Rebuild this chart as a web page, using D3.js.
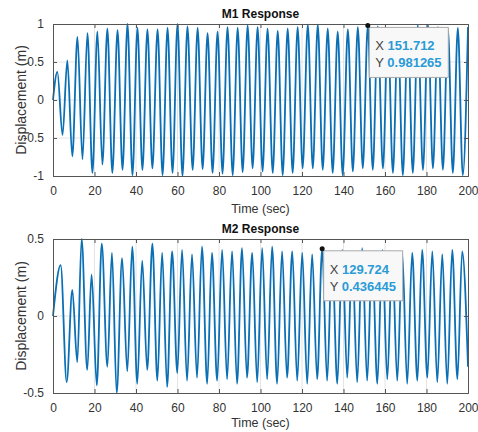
<!DOCTYPE html>
<html>
<head>
<meta charset="utf-8">
<script src="https://cdn.jsdelivr.net/npm/d3@7"></script>
<style>
  html, body { margin: 0; padding: 0; background: #fff; }
  svg { display: block; }
  text { font-family: "Liberation Sans", Arial, Helvetica, sans-serif; }
</style>
</head>
<body>
<svg id="chart" width="478" height="432"></svg>
<script>
// ---------------- data ----------------
const timeTicks = [0, 20, 40, 60, 80, 100, 120, 140, 160, 180, 200];
const m1Ticks = [-1, -0.5, 0, 0.5, 1];
const m2Ticks = [-0.5, 0, 0.5];

const m1Time = [0, 2.1, 4.6, 6.9, 9.3, 11.8, 14.2, 16.6, 19.0, 21.4, 23.8, 26.2, 28.6, 31.1, 33.5,
  35.9, 38.3, 40.7, 43.1, 45.5, 47.9, 50.4, 52.8, 55.2, 57.6, 60.0, 62.4, 64.8, 67.3, 69.7, 72.1,
  74.5, 76.9, 79.3, 81.7, 84.1, 86.6, 89.0, 91.4, 93.8, 96.2, 98.6, 101.0, 103.4, 105.9, 108.3,
  110.7, 113.1, 115.5, 117.9, 120.3, 122.8, 125.2, 127.6, 130.0, 132.4, 134.8, 137.2, 139.6, 142.1,
  144.5, 146.9, 149.3, 151.712, 154.1, 156.5, 159.0, 161.4, 163.8, 166.2, 168.6, 171.0, 173.4, 175.8,
  178.3, 180.7, 183.1, 185.5, 187.9, 190.3, 192.7, 195.1, 197.5, 200.0];
const m1Disp = [0, 0.37, -0.46, 0.52, -0.74, 0.83, -0.78, 0.88, -0.96, 0.90, -0.85, 0.94, -0.96,
  0.92, -0.92, 1.00, -0.99, 0.95, -0.92, 0.93, -0.90, 0.93, -0.99, 0.95, -0.96, 1.00, -1.00,
  0.97, -0.92, 0.95, -0.91, 0.88, -0.96, 0.90, -0.97, 0.96, -0.99, 0.95, -0.95, 0.98, -0.90,
  0.96, -0.94, 0.94, -0.96, 0.91, -0.99, 0.94, -0.96, 0.96, -0.90, 0.99, -0.90, 0.99, -0.92,
  0.94, -0.96, 0.90, -0.99, 0.93, -0.94, 0.96, -0.90, 0.981265, -0.92, 0.97, -0.90, 0.95, -0.96,
  0.93, -0.99, 0.95, -0.96, 0.98, -0.92, 0.99, -0.90, 0.96, -0.92, 0.94, -0.96, 0.95, -0.99, 0.96];

const m2Time = [0, 3.7, 6.6, 9.3, 11.7, 13.8, 16.5, 18.6, 21.1, 23.5, 26.2, 28.4, 30.7, 33.3, 35.8,
  38.2, 40.6, 43.0, 45.4, 47.9, 50.3, 52.6, 55.0, 57.4, 59.9, 62.2, 64.6, 67.0, 69.4, 71.8, 74.3,
  76.6, 79.1, 81.5, 83.9, 86.3, 88.7, 91.1, 93.5, 96.0, 98.4, 100.8, 103.2, 105.6, 108.0, 110.4,
  112.8, 115.3, 117.7, 120.1, 122.5, 124.9, 127.3, 129.724, 132.1, 134.5, 137.0, 139.4, 141.8, 144.2,
  146.6, 149.0, 151.4, 153.8, 156.3, 158.7, 161.1, 163.5, 165.9, 168.3, 170.7, 173.1, 175.6, 177.9,
  180.4, 182.8, 185.2, 187.6, 190.0, 192.4, 194.9, 197.2, 200.0];
const m2Disp = [0, 0.33, -0.43, 0.17, -0.30, 0.50, -0.35, 0.27, -0.45, 0.47, -0.33, 0.41, -0.50,
  0.375, -0.36, 0.45, -0.44, 0.36, -0.35, 0.47, -0.42, 0.41, -0.46, 0.42, -0.37, 0.43, -0.42,
  0.40, -0.40, 0.45, -0.44, 0.41, -0.42, 0.43, -0.41, 0.42, -0.44, 0.44, -0.40, 0.41, -0.43,
  0.44, -0.41, 0.45, -0.44, 0.42, -0.40, 0.42, -0.42, 0.41, -0.44, 0.40, -0.41, 0.436445, -0.42,
  0.42, -0.44, 0.43, -0.40, 0.41, -0.43, 0.44, -0.42, 0.42, -0.44, 0.43, -0.41, 0.41, -0.42,
  0.41, -0.44, 0.41, -0.42, 0.43, -0.40, 0.42, -0.43, 0.40, -0.44, 0.43, -0.41, 0.42, -0.33];

const panels = [
  { title: "M1 Response", time: m1Time, disp: m1Disp, yTicks: m1Ticks, yDomain: [-1, 1],
    top: 24, bottom: 176, xlabGap: 37,
    tip: { x: 151.712, y: 0.981265, xs: "151.712", ys: "0.981265" } },
  { title: "M2 Response", time: m2Time, disp: m2Disp, yTicks: m2Ticks, yDomain: [-0.5, 0.5],
    top: 239, bottom: 393, xlabGap: 34,
    tip: { x: 129.724, y: 0.436445, xs: "129.724", ys: "0.436445" } }
];

// ---------------- drawing ----------------
const svg = d3.select("#chart");
const left = 53, right = 468;
const lineColor = "#0a6fb4";
const axisColor = "#555";
const textColor = "#333";
const fmt = v => String(v);

panels.forEach(p => {
  const x = d3.scaleLinear().domain([0, 200]).range([left, right]);
  const y = d3.scaleLinear().domain(p.yDomain).range([p.bottom, p.top]);
  const g = svg.append("g");

  // grid
  g.append("g").selectAll("line").data(timeTicks.slice(1, -1)).join("line")
    .attr("x1", d => x(d)).attr("x2", d => x(d))
    .attr("y1", p.top).attr("y2", p.bottom)
    .attr("stroke", "#e4e4e4").attr("stroke-width", 1);
  g.append("g").selectAll("line").data(p.yTicks.slice(1, -1)).join("line")
    .attr("y1", d => y(d)).attr("y2", d => y(d))
    .attr("x1", left).attr("x2", right)
    .attr("stroke", "#e4e4e4").attr("stroke-width", 1);

  // data line
  const pts = p.time.map((t, i) => [t, p.disp[i]]);
  const line = d3.line().x(d => x(d[0])).y(d => y(d[1])).curve(d3.curveMonotoneX);
  g.append("path").datum(pts)
    .attr("d", line)
    .attr("fill", "none")
    .attr("stroke", lineColor)
    .attr("stroke-width", 1.8)
    .attr("stroke-linejoin", "round");

  // axes (inward ticks)
  const xb = d3.axisBottom(x).tickValues(timeTicks).tickSize(-4).tickPadding(10).tickFormat(fmt);
  const xt = d3.axisTop(x).tickValues(timeTicks).tickSize(-4).tickFormat("");
  const yl = d3.axisLeft(y).tickValues(p.yTicks).tickSize(-4).tickPadding(9).tickFormat(fmt);
  const yr = d3.axisRight(y).tickValues(p.yTicks).tickSize(-4).tickFormat("");

  [[xb, `translate(0,${p.bottom})`], [xt, `translate(0,${p.top})`],
   [yl, `translate(${left},0)`], [yr, `translate(${right},0)`]].forEach(([ax, tr]) => {
    const a = g.append("g").attr("transform", tr).call(ax);
    a.select(".domain").attr("stroke", axisColor).attr("stroke-width", 1);
    a.selectAll(".tick line").attr("stroke", axisColor);
    a.selectAll(".tick text").attr("fill", textColor)
      .style("font-size", "12px")
      .style("font-family", '"Liberation Sans", Arial, sans-serif');
  });

  // title
  svg.append("text")
    .attr("x", (left + right) / 2).attr("y", p.top - 6)
    .attr("text-anchor", "middle")
    .attr("font-weight", "bold").attr("font-size", "12px")
    .attr("fill", "#111")
    .text(p.title);

  // x label
  svg.append("text")
    .attr("x", (left + right) / 2).attr("y", p.bottom + p.xlabGap)
    .attr("text-anchor", "middle").attr("font-size", "12.5px")
    .attr("fill", textColor)
    .text("Time (sec)");

  // y label
  svg.append("text")
    .attr("transform", `translate(26,${(p.top + p.bottom) / 2}) rotate(-90)`)
    .attr("text-anchor", "middle").attr("font-size", "14px")
    .attr("fill", textColor)
    .text("Displacement (m)");

  // data tip
  const tx = x(p.tip.x), ty = y(p.tip.y);
  const bx = tx + 1.5, by = ty + 2, bw = 79, bh = 50;
  const tipG = svg.append("g");
  tipG.append("rect")
    .attr("x", bx).attr("y", by).attr("width", bw).attr("height", bh)
    .attr("fill", "#f8f8f8").attr("stroke", "#aaa").attr("stroke-width", 1);
  const rows = [["X ", p.tip.xs, 23], ["Y ", p.tip.ys, 40]];
  rows.forEach(([lab, val, dy]) => {
    const t = tipG.append("text")
      .attr("x", bx + 6).attr("y", by + dy)
      .attr("font-size", "13px");
    t.append("tspan").attr("fill", "#444").text(lab);
    t.append("tspan").attr("fill", "#2a9bd6").attr("font-weight", "bold").text(val);
  });
  tipG.append("circle").attr("cx", tx).attr("cy", ty).attr("r", 2.5).attr("fill", "#111");
});
</script>
</body>
</html>
